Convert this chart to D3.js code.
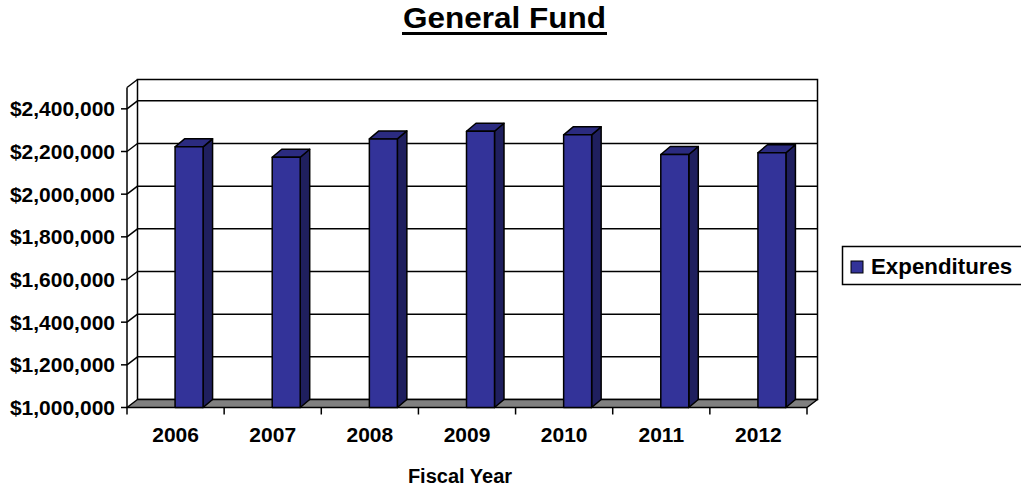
<!DOCTYPE html>
<html>
<head>
<meta charset="utf-8">
<script src="https://cdn.jsdelivr.net/npm/d3@7"></script>
<style>
  html, body { margin: 0; padding: 0; background: #ffffff; }
  svg { display: block; font-family: "Liberation Sans", Arial, sans-serif; font-weight: bold; }
</style>
</head>
<body>
<svg id="chart" width="1021" height="486"></svg>
<script>
// Fiscal years and General Fund expenditures
const years = ["2006", "2007", "2008", "2009", "2010", "2011", "2012"];
const expenditures = [2222000, 2173000, 2259000, 2295000, 2278000, 2186000, 2194000];
const yTicks = [1000000, 1200000, 1400000, 1600000, 1800000, 2000000, 2200000, 2400000];
const yDomain = [1000000, 2500000];
const seriesName = "Expenditures";
const titleText = "General Fund";
const xTitle = "Fiscal Year";

(function () {
  const svg = d3.select("#chart");

  // front plane of the 3-D box
  const plotL = 127, plotR = 807, plotB = 407.5, plotT = 87.5;
  // oblique depth of walls/floor and of the columns
  const dx = 10.5, dy = -8;
  const bdx = 9.5, bdy = -8;

  const x = d3.scaleBand().domain(years).range([plotL, plotR]).paddingInner(0).paddingOuter(0);
  const y = d3.scaleLinear().domain(yDomain).range([plotB, plotT]);
  const fmt = v => "$" + d3.format(",")(v);

  const ink = "#000000";
  const sw = 1.5;

  // back wall
  svg.append("rect")
    .attr("x", plotL + dx).attr("y", plotT + dy)
    .attr("width", plotR - plotL).attr("height", plotB - plotT)
    .attr("fill", "#ffffff").attr("stroke", ink).attr("stroke-width", sw);

  // side wall top edge
  svg.append("line")
    .attr("x1", plotL).attr("y1", y(yDomain[1]))
    .attr("x2", plotL + dx).attr("y2", y(yDomain[1]) + dy)
    .attr("stroke", ink).attr("stroke-width", sw);

  // gridlines: diagonal on the side wall, horizontal on the back wall
  const grid = svg.append("g");
  yTicks.slice(1).forEach(v => {
    grid.append("line")
      .attr("x1", plotL).attr("y1", y(v))
      .attr("x2", plotL + dx).attr("y2", y(v) + dy)
      .attr("stroke", ink).attr("stroke-width", sw);
    grid.append("line")
      .attr("x1", plotL + dx).attr("y1", y(v) + dy)
      .attr("x2", plotR + dx).attr("y2", y(v) + dy)
      .attr("stroke", ink).attr("stroke-width", sw);
  });

  // floor
  const fy = y(yDomain[0]);
  svg.append("path")
    .attr("d", d3.line()([[plotL, fy], [plotR, fy], [plotR + dx, fy + dy], [plotL + dx, fy + dy]]) + "Z")
    .attr("fill", "#808080").attr("stroke", ink).attr("stroke-width", sw)
    .attr("stroke-linejoin", "round");

  // y axis line and ticks
  svg.append("line")
    .attr("x1", plotL).attr("y1", y(yDomain[0]))
    .attr("x2", plotL).attr("y2", y(yDomain[1]))
    .attr("stroke", ink).attr("stroke-width", sw);

  const yAx = svg.append("g");
  yTicks.forEach(v => {
    yAx.append("line")
      .attr("x1", plotL - 6).attr("y1", y(v))
      .attr("x2", plotL).attr("y2", y(v))
      .attr("stroke", ink).attr("stroke-width", sw);
    yAx.append("text")
      .attr("x", 115).attr("y", y(v))
      .attr("dy", "0.35em")
      .attr("text-anchor", "end")
      .attr("font-size", 21)
      .attr("fill", ink)
      .text(fmt(v));
  });

  // x axis ticks at category boundaries
  const xAx = svg.append("g");
  const bounds = years.map(d => x(d)).concat([plotR]);
  bounds.forEach(b => {
    xAx.append("line")
      .attr("x1", b).attr("y1", fy)
      .attr("x2", b).attr("y2", fy + 7)
      .attr("stroke", ink).attr("stroke-width", sw);
  });
  years.forEach(d => {
    xAx.append("text")
      .attr("x", x(d) + x.bandwidth() / 2)
      .attr("y", 441.5)
      .attr("text-anchor", "middle")
      .attr("font-size", 21)
      .attr("fill", ink)
      .text(d);
  });

  // 3-D columns
  const barW = 28;
  const cols = svg.append("g");
  years.forEach((d, i) => {
    const v = expenditures[i];
    const bx = x(d) + x.bandwidth() / 2 - 0.5;
    const yt = y(v), yb = y(yDomain[0]);
    const g = cols.append("g")
      .attr("stroke", ink).attr("stroke-width", sw).attr("stroke-linejoin", "round");
    // side face
    g.append("path")
      .attr("d", d3.line()([[bx + barW, yt], [bx + barW + bdx, yt + bdy], [bx + barW + bdx, yb + bdy], [bx + barW, yb]]) + "Z")
      .attr("fill", "#1f1f5e");
    // top face
    g.append("path")
      .attr("d", d3.line()([[bx, yt], [bx + bdx, yt + bdy], [bx + barW + bdx, yt + bdy], [bx + barW, yt]]) + "Z")
      .attr("fill", "#2b2b80");
    // front face
    g.append("rect")
      .attr("x", bx).attr("y", yt)
      .attr("width", barW).attr("height", yb - yt)
      .attr("fill", "#333399");
  });

  // title, underlined
  const title = svg.append("text")
    .attr("x", 504.5).attr("y", 27.5)
    .attr("text-anchor", "middle")
    .attr("font-size", 30)
    .attr("textLength", 203)
    .attr("lengthAdjust", "spacingAndGlyphs")
    .attr("fill", ink)
    .text(titleText);
  svg.append("line")
    .attr("x1", 504.5 - 102.5).attr("x2", 504.5 + 102.5)
    .attr("y1", 33.5).attr("y2", 33.5)
    .attr("stroke", ink).attr("stroke-width", 3);

  // axis title
  svg.append("text")
    .attr("x", 460).attr("y", 483)
    .attr("text-anchor", "middle")
    .attr("font-size", 20)
    .attr("fill", ink)
    .text(xTitle);

  // legend
  const lg = svg.append("g");
  lg.append("rect")
    .attr("x", 842.5).attr("y", 246.5)
    .attr("width", 190).attr("height", 38)
    .attr("fill", "#ffffff").attr("stroke", ink).attr("stroke-width", sw);
  lg.append("rect")
    .attr("x", 851).attr("y", 261)
    .attr("width", 12).attr("height", 12)
    .attr("fill", "#333399").attr("stroke", ink).attr("stroke-width", 1);
  lg.append("text")
    .attr("x", 871).attr("y", 274)
    .attr("font-size", 22.3)
    .attr("fill", ink)
    .text(seriesName);
})();
</script>
</body>
</html>
